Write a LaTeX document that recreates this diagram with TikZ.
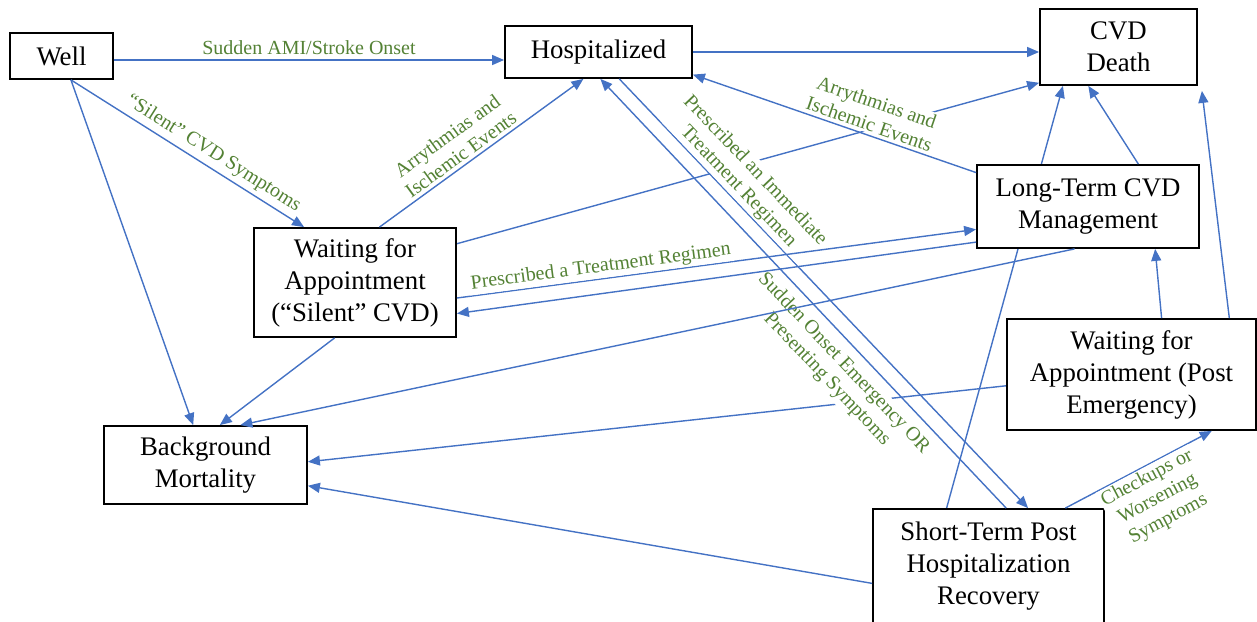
\documentclass[tikz,border=0pt]{standalone}
\usepackage{fontspec}
\setmainfont{Liberation Serif}
\usetikzlibrary{arrows.meta,calc}
\definecolor{flowblue}{HTML}{4472C4}
\definecolor{labgreen}{HTML}{548235}
\pgfdeclarelayer{background}
\pgfsetlayers{background,main}
\tikzset{
	statebox/.style={draw,fill=white,line width=0.9pt,align=center,inner sep=0pt,font=\fontsize{13.4}{16}\selectfont},
	flow/.style={draw=flowblue,line width=0.7pt,-{Triangle[length=6pt,width=5pt]}},
	lbl/.style={text=labgreen,fill=white,inner sep=1pt,align=center,sloped,font=\fontsize{10}{11.5}\selectfont}
}
\begin{document}
\begin{tikzpicture}[x=0.5pt,y=-0.5pt]
				\useasboundingbox (0,0) rectangle (1257,621);
				% states
				\node[statebox,minimum width=51.5pt,minimum height=23pt] (well) at (61.5,56) {Well};
				\node[statebox,minimum width=93.5pt,minimum height=26pt] (hosp) at (598.5,52) {Hospitalized};
				\node[statebox,minimum width=78.5pt,minimum height=38pt] (cvd) at (1118.5,47) {CVD\\Death};
				\node[statebox,minimum width=101pt,minimum height=54.5pt] (waitS) at (355,282.5) {Waiting for\\Appointment\\(“Silent” CVD)};
				\node[statebox,minimum width=111pt,minimum height=41.5pt] (longT) at (1088,206.5) {Long-Term CVD\\Management};
				\node[statebox,minimum width=124.5pt,minimum height=55.5pt] (waitP) at (1131.5,374.5) {Waiting for\\Appointment (Post\\Emergency)};
				\node[statebox,minimum width=101.5pt,minimum height=39pt] (bg) at (205.5,465) {Background\\Mortality};
				\node[statebox,minimum width=115.5pt,minimum height=57pt] (shortT) at (988.5,566) {Short-Term Post\\Hospitalization\\Recovery};
				% lines partly hidden by labels and boxes
				\begin{pgfonlayer}{background}
				\draw[flow] ($(waitS.north east)!.15!(waitS.south east)$) -- ($(cvd.north west)!.96!(cvd.south west)$);
				\draw[flow] ($(shortT.north west)!.32!(shortT.north east)$) -- ($(cvd.south west)!.15!(cvd.south east)$);
				\draw[flow] ($(waitP.north west)!.6!(waitP.south west)$) -- ($(bg.north east)!.46!(bg.south east)$);
				\end{pgfonlayer}
				% transitions
				\draw[flow] ($(well.east)+(0,4)$) -- ($(well.east -| hosp.west)+(0,4)$) node[lbl,midway,above=1.5pt]{Sudden AMI/Stroke Onset};
				\draw[flow] ($(well.south west)!.59!(well.south east)$) -- ($(waitS.north west)!.25!(waitS.north east)$) node[lbl,pos=.58,above=1pt]{“Silent” CVD Symptoms};
				\draw[flow] ($(well.south west)!.59!(well.south east)$) -- ($(bg.north west)!.44!(bg.north east)$);
				\draw[flow] ($(waitS.north west)!.62!(waitS.north east)$) -- ($(hosp.south west)!.42!(hosp.south east)$) node[lbl,pos=.43,above=0.7pt]{Arrythmias and\\Ischemic Events};
				\draw[flow] (hosp.east) -- (hosp.east -| cvd.west);
				\draw[flow] ($(longT.north west)!.1!(longT.south west)$) -- ($(hosp.north east)!.92!(hosp.south east)$) node[lbl,pos=.39,above=0.7pt]{Arrythmias and\\Ischemic Events};
				\draw[flow] ($(longT.north west)!.725!(longT.north east)$) -- ($(cvd.south west)!.31!(cvd.south east)$);
				\draw[flow] ($(waitP.north west)!.89!(waitP.north east)$) -- ($(cvd.south east)+(4,5)$);
				\draw[flow] ($(waitP.north west)!.62!(waitP.north east)$) -- ($(longT.south west)!.8!(longT.south east)$);
				\draw[flow] ($(waitS.south west)!.4!(waitS.south east)$) -- ($(bg.north west)!.57!(bg.north east)$);
				\draw[flow] ($(shortT.north west)!.65!(shortT.south west)$) -- ($(bg.north east)!.76!(bg.south east)$);
				\draw[flow] ($(shortT.north west)!.83!(shortT.north east)$) -- ($(waitP.south west)!.82!(waitP.south east)$) node[lbl,pos=.52,below=0pt]{Checkups or\\Worsening\\Symptoms};
				\draw[flow] ($(shortT.north west)!.576!(shortT.north east)$) -- ($(hosp.south west)!.51!(hosp.south east)$) node[lbl,pos=.367,below=3.5pt]{Sudden Onset Emergency OR\\Presenting Symptoms};
				\draw[flow] ($(hosp.south west)!.61!(hosp.south east)$) -- ($(shortT.north west)!.67!(shortT.north east)$) node[lbl,pos=.27,above=0pt]{Prescribed an Immediate\\Treatment Regimen};
				\draw[flow] ($(waitS.north east)!.64!(waitS.south east)$) -- ($(longT.north west)!.77!(longT.south west)$) node[lbl,pos=.28,above]{Prescribed a Treatment Regimen};
				\draw[flow] ($(longT.north west)!.92!(longT.south west)$) -- ($(waitS.north east)!.78!(waitS.south east)$);
				\draw[flow] ($(longT.south west)!.44!(longT.south east)$) -- ($(bg.north west)!.67!(bg.north east)$);
\end{tikzpicture}
\end{document}
